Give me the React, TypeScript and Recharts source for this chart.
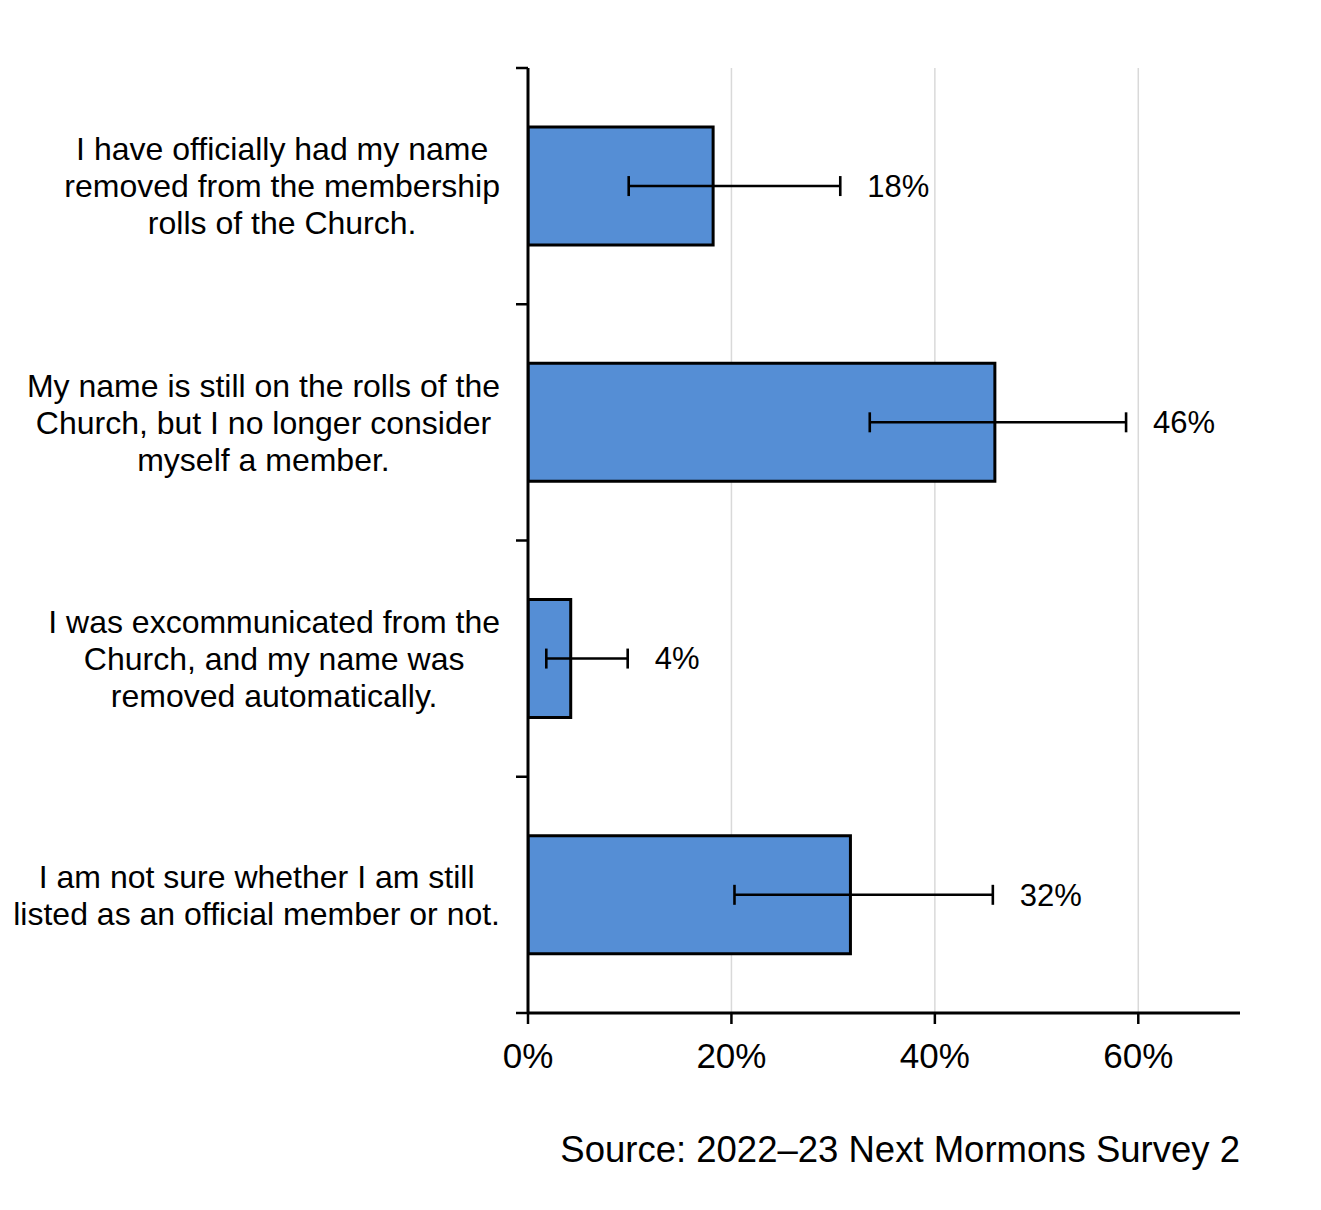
import React from 'react';
import { BarChart, Bar, XAxis, YAxis, CartesianGrid, ErrorBar, LabelList, ReferenceLine } from 'recharts';

const FONT = "'Liberation Sans', Arial, sans-serif";

// answers, one per bar (line breaks as in the original chart)
const categories = [
  'I have officially had my name\nremoved from the membership\nrolls of the Church.',
  'My name is still on the rolls of the\nChurch, but I no longer consider\nmyself a member.',
  'I was excommunicated from the\nChurch, and my name was\nremoved automatically.',
  'I am not sure whether I am still\nlisted as an official member or not.',
];
const shares = [0.182, 0.459, 0.042, 0.317];
const lows = [0.099, 0.336, 0.018, 0.203];
const highs = [0.307, 0.588, 0.098, 0.457];
const valueLabels = ['18%', '46%', '4%', '32%'];
const xTicks = [0, 0.2, 0.4, 0.6];

const data = categories.map((name, i) => ({
  name,
  share: shares[i],
  err: [shares[i] - lows[i], highs[i] - shares[i]],
  label: valueLabels[i],
}));

let measureCtx: CanvasRenderingContext2D | null = null;
function textWidth(s: string, font: string) {
  if (!measureCtx) measureCtx = document.createElement('canvas').getContext('2d');
  if (!measureCtx) return s.length * 16;
  measureCtx.font = font;
  return measureCtx.measureText(s).width;
}

function CategoryTick(props: any) {
  const { x, y, payload } = props;
  const lines = String(payload.value).split('\n');
  const maxW = Math.max(...lines.map((l) => textWidth(l, `32px ${FONT}`)));
  const cx = x - maxW / 2;
  return (
    <g>
      {lines.map((line, i) => (
        <text
          key={i}
          x={cx}
          y={y + (i - (lines.length - 1) / 2) * 37}
          dy="0.35em"
          textAnchor="middle"
          fontSize={32}
          fontFamily={FONT}
          fill="#000"
        >
          {line}
        </text>
      ))}
    </g>
  );
}

function ValueLabel(props: any) {
  const { x, y, width, height, value, index } = props;
  const pxPerUnit = width / shares[index];
  return (
    <text
      x={x + highs[index] * pxPerUnit + 27}
      y={y + height / 2}
      dy="0.35em"
      fontSize={31}
      fontFamily={FONT}
      fill="#000"
    >
      {value}
    </text>
  );
}

// short outward tick on the category axis, at a band edge
function BandTick(props: any) {
  const left = Math.min(props.x1, props.x2);
  return <line x1={left - 12} x2={left} y1={props.y1} y2={props.y1} stroke="#000" strokeWidth={2.5} />;
}

export default function App() {
  return (
    <div style={{ position: 'absolute', left: 0, top: 0, width: 1321, height: 1210, background: '#fff' }}>
      <BarChart
        width={1321}
        height={1210}
        data={data}
        layout="vertical"
        margin={{ top: 68, right: 81, bottom: 137, left: 0 }}
        barCategoryGap="25%"
      >
        <CartesianGrid
          horizontal={false}
          yAxisId="cat"
          verticalValues={xTicks}
          stroke="#d9d9d9"
          strokeWidth={1.5}
        />
        <XAxis
          type="number"
          domain={[0, 0.7]}
          ticks={xTicks}
          interval={0}
          allowDataOverflow
          tickFormatter={(v: number) => `${Math.round(v * 100)}%`}
          axisLine={{ stroke: '#000', strokeWidth: 3 }}
          tickLine={{ stroke: '#000', strokeWidth: 2.5 }}
          tickSize={11}
          tickMargin={19}
          height={60}
          tick={{ fill: '#000', fontSize: 35, fontFamily: FONT }}
        />
        <YAxis
          yAxisId="cat"
          type="category"
          dataKey="name"
          width={528}
          interval={0}
          axisLine={{ stroke: '#000', strokeWidth: 3 }}
          tickLine={false}
          tickSize={0}
          tickMargin={28}
          tick={<CategoryTick />}
        />
        {categories.map((c) => (
          <ReferenceLine key={`s-${c}`} yAxisId="cat" y={c} position="start" shape={<BandTick />} />
        ))}
        <ReferenceLine
          yAxisId="cat"
          y={categories[categories.length - 1]}
          position="end"
          shape={<BandTick />}
        />
        <Bar yAxisId="cat" dataKey="share" fill="#558ed5" stroke="#000" strokeWidth={3} isAnimationActive={false}>
          <ErrorBar dataKey="err" direction="x" width={10} stroke="#000" strokeWidth={2.6} isAnimationActive={false} />
          <LabelList dataKey="label" content={<ValueLabel />} />
        </Bar>
      </BarChart>
      <div
        style={{
          position: 'absolute',
          right: 81,
          top: 1132,
          fontFamily: FONT,
          fontSize: 36.5,
          lineHeight: '36px',
          whiteSpace: 'nowrap',
          color: '#000',
        }}
      >
        Source: 2022–23 Next Mormons Survey 2
      </div>
    </div>
  );
}
